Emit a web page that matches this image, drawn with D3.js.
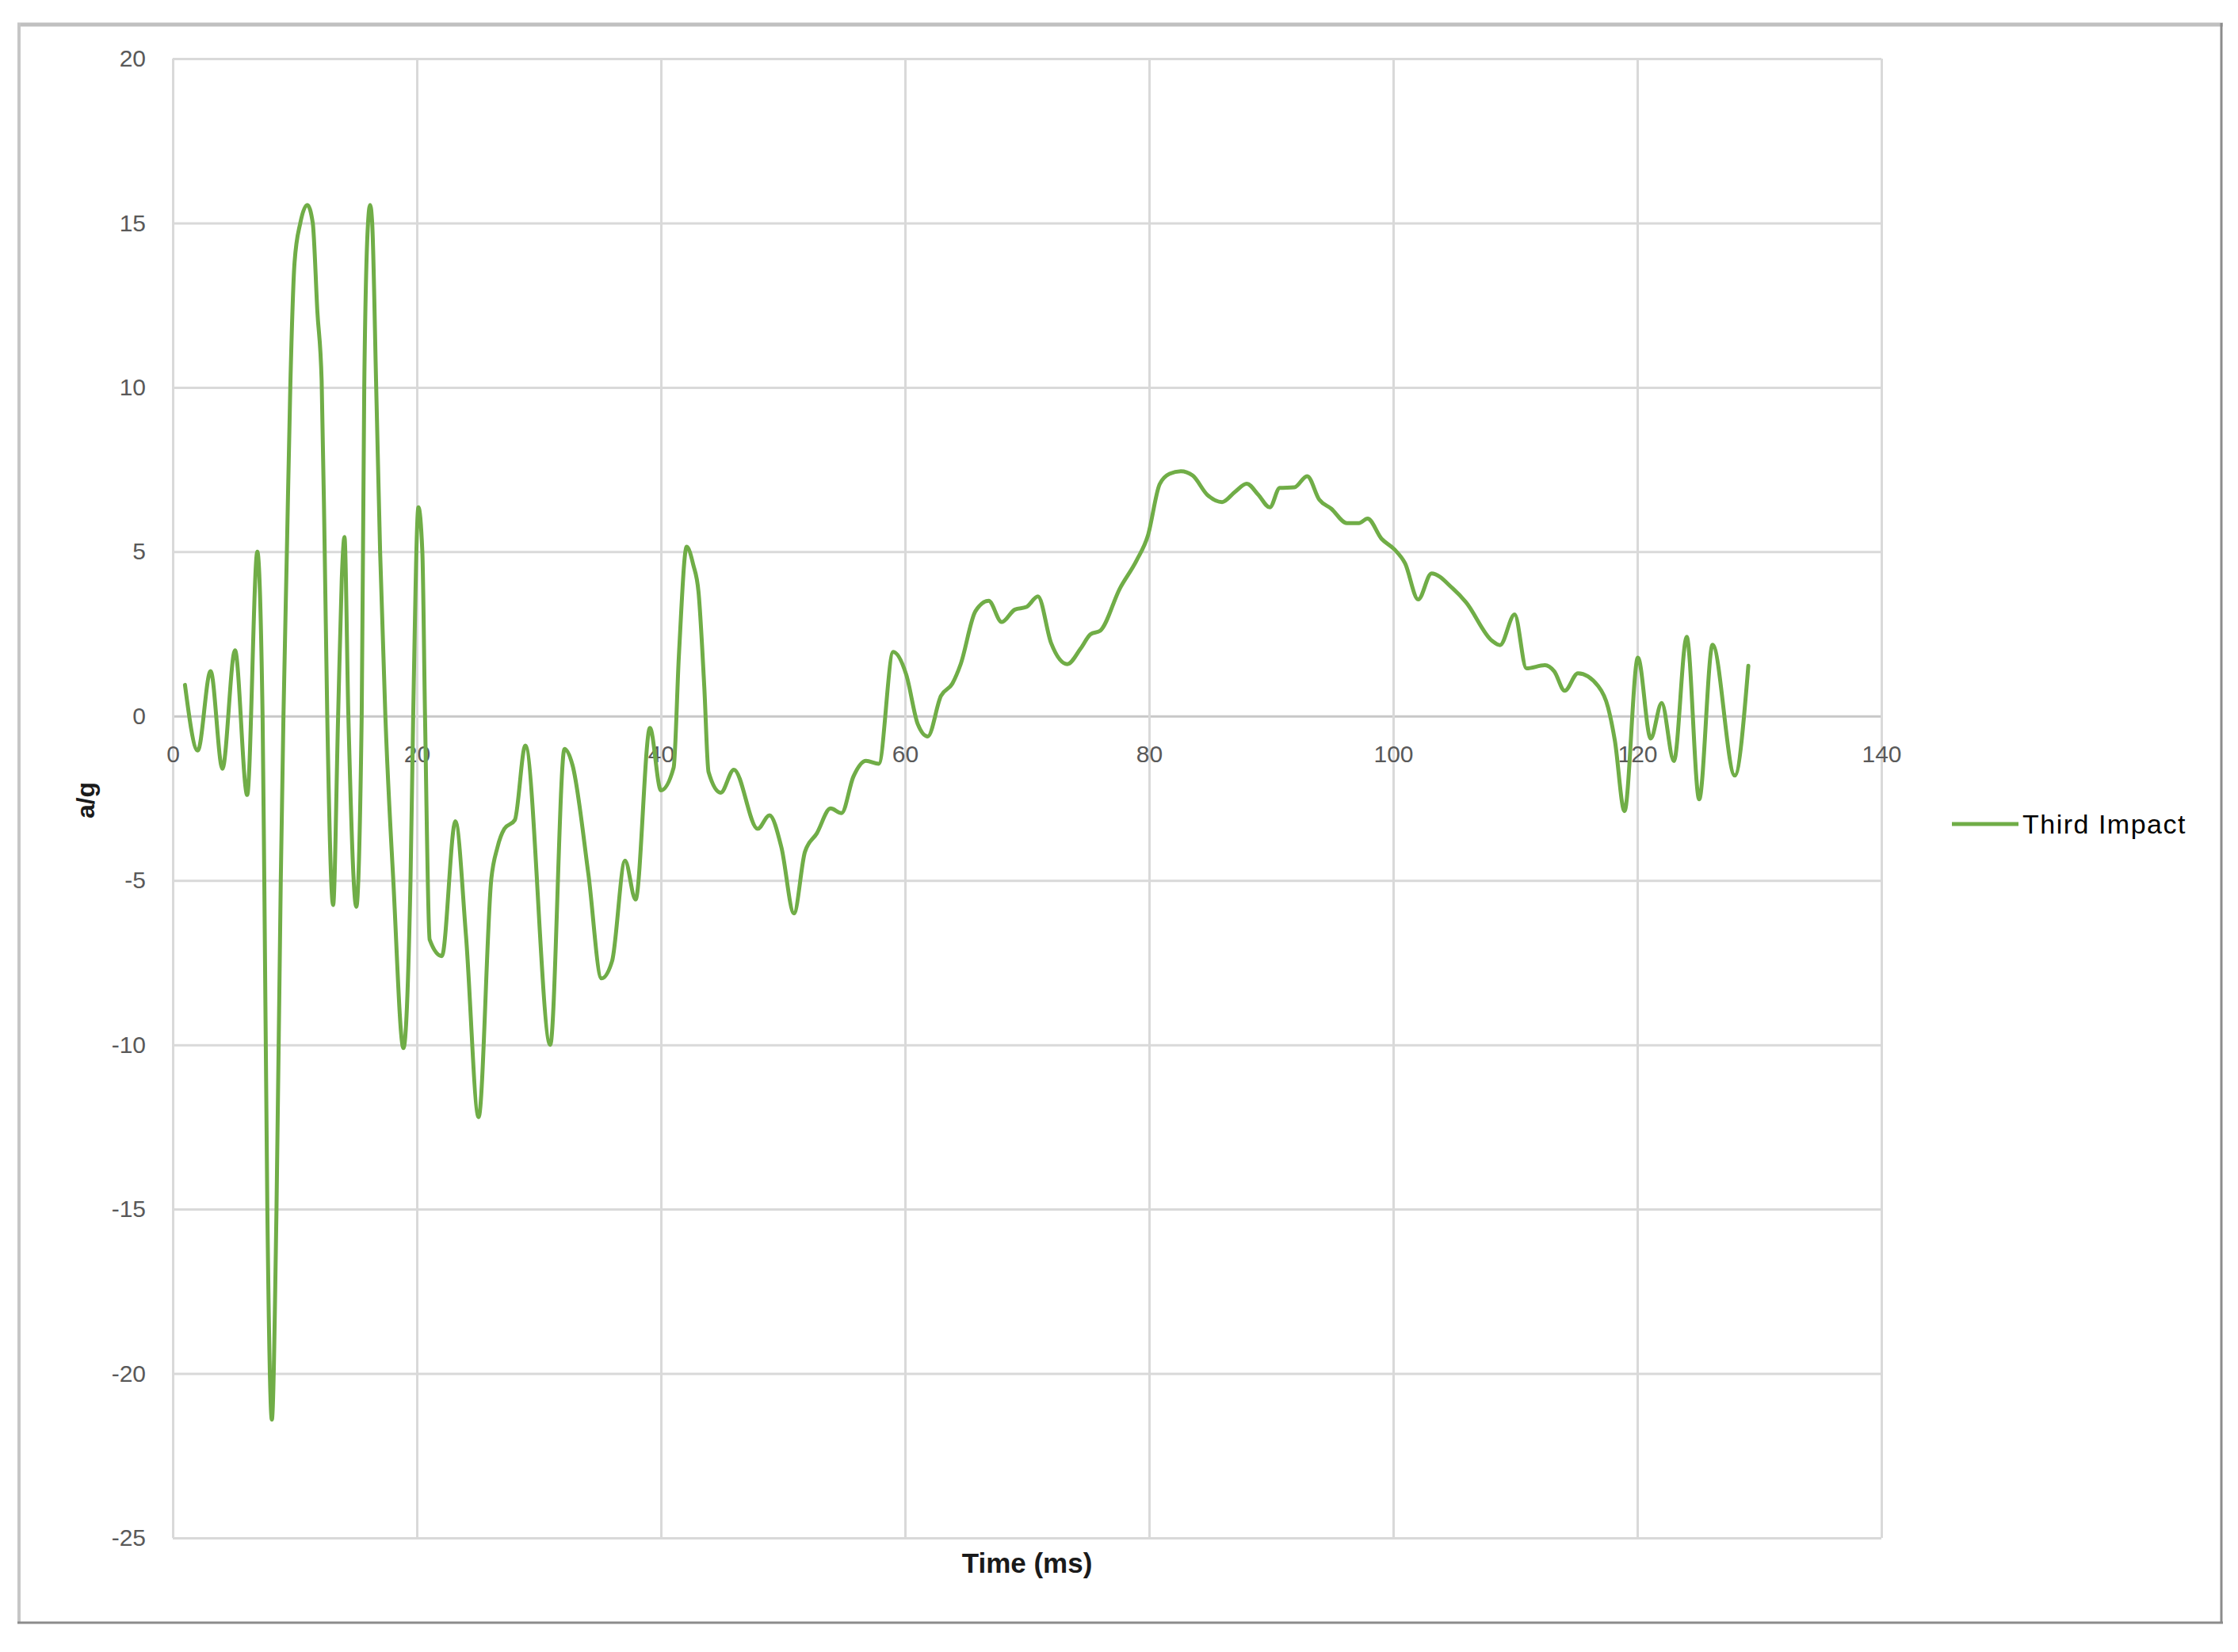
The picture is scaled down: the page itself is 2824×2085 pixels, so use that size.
<!DOCTYPE html>
<html>
<head>
<meta charset="utf-8">
<script src="https://cdn.jsdelivr.net/npm/d3@7/dist/d3.min.js"></script>
<style>
  body { margin: 0; background: #fff; }
  svg { display: block; font-family: "Liberation Sans", Arial, sans-serif; }
</style>
</head>
<body>
<div id="chart"></div>
<script>
// Values
var timeMs = [
  1.0, 2.05, 3.1, 4.07, 5.1, 6.1, 6.93, 7.36, 7.5, 7.75,
  8.12, 8.5, 8.85, 9.07, 9.35, 9.63, 9.98, 10.45, 11.02, 11.47,
  11.85, 12.2, 12.45, 12.66, 13.14, 13.55, 13.85, 14.07, 14.39, 15.04,
  15.48, 15.69, 16.0, 16.17, 16.34, 16.67, 16.99, 17.42, 18.07, 18.9,
  19.48, 19.7, 20.13, 20.45, 20.67, 21.05, 22.05, 23.16, 24.03, 25.06,
  26.1, 26.6, 27.17, 28.03, 28.89, 30.93, 32.1, 32.76, 34.06, 35.13,
  36.0, 37.06, 37.92, 39.1, 40.0, 41.04, 41.47, 42.11, 42.65, 43.08,
  43.55, 43.9, 44.9, 45.98, 47.93, 48.89, 49.87, 50.9, 51.8, 52.77,
  53.9, 54.8, 55.77, 56.8, 57.85, 59.03, 60.1, 61.05, 61.86, 62.94,
  63.88, 64.56, 65.77, 66.85, 67.92, 69.0, 69.95, 70.89, 71.97, 73.3,
  74.4, 75.2, 76.0, 77.6, 78.98, 79.9, 80.86, 81.67, 82.6, 83.56,
  84.77, 85.98, 87.06, 88.0, 88.95, 89.89, 90.7, 91.9, 92.95, 93.95,
  94.92, 96.2, 97.19, 97.9, 99.03, 100.1, 100.97, 102.05, 103.14, 104.86,
  105.95, 108.1, 108.76, 109.95, 110.92, 112.43, 113.2, 114.05, 115.14, 116.8,
  117.6, 118.16, 118.95, 120.05, 121.1, 122.0, 123.0, 124.05, 125.07, 126.17,
  127.99, 129.1
];
var accel = [
  0.95, -1.05, 1.37, -1.6, 2.0, -2.4, 5.0, 0.0, -5.0, -15.0,
  -21.4, -15.0, -5.0, 0.0, 5.0, 10.0, 13.8, 15.0, 15.55, 15.0,
  12.3, 10.2, 5.0, 0.0, -5.75, 0.0, 4.2, 5.45, 0.0, -5.8,
  0.0, 10.0, 15.0, 15.55, 15.0, 10.0, 5.0, 0.0, -5.0, -10.1,
  -5.0, 0.0, 6.35, 5.0, 0.0, -6.8, -7.3, -3.2, -6.7, -12.2,
  -4.96, -4.0, -3.43, -3.16, -0.9, -10.0, -1.0, -1.5, -4.82, -7.98,
  -7.45, -4.4, -5.58, -0.36, -2.26, -1.57, 1.83, 5.15, 4.6, 3.77,
  0.9, -1.7, -2.33, -1.63, -3.43, -3.02, -3.99, -6.0, -4.13, -3.57,
  -2.81, -2.95, -1.84, -1.36, -1.45, 1.95, 1.26, -0.25, -0.62, 0.61,
  0.99, 1.58, 3.19, 3.51, 2.86, 3.24, 3.32, 3.64, 2.22, 1.58,
  2.06, 2.49, 2.6, 3.88, 4.74, 5.49, 7.05, 7.37, 7.45, 7.32,
  6.73, 6.51, 6.83, 7.07, 6.73, 6.35, 6.94, 6.96, 7.3, 6.58,
  6.31, 5.87, 5.87, 6.01, 5.4, 5.07, 4.65, 3.55, 4.34, 3.89,
  3.47, 2.29, 2.16, 3.09, 1.45, 1.55, 1.36, 0.77, 1.3, 0.91,
  0.27, -0.74, -2.89, 1.78, -0.68, 0.4, -1.37, 2.41, -2.53, 2.17,
  -1.81, 1.53
];
var xTicks = [0, 20, 40, 60, 80, 100, 120, 140];
var yTicks = [-25, -20, -15, -10, -5, 0, 5, 10, 15, 20];
var seriesName = "Third Impact";
var xTitle = "Time (ms)";
var yTitle = "a/g";

var width = 2824,
  height = 2085;
var plot = { left: 218, right: 2374, top: 74, bottom: 1941 };

var points = timeMs.map(function (t, i) { return { t: t, a: accel[i] }; });

// plain hyphen for negatives, like the original
function tickLabel(d) { return String(d); }

var svg = d3.select("#chart").append("svg")
  .attr("width", width)
  .attr("height", height);

svg.append("rect")
  .attr("width", width)
  .attr("height", height)
  .attr("fill", "#fff");

// Chart frame (light top/left, darker right/bottom)
svg.append("line").attr("x1", 22).attr("x2", 2805).attr("y1", 31).attr("y2", 31)
  .attr("stroke", "#c0c0c0").attr("stroke-width", 5);
svg.append("line").attr("x1", 24).attr("x2", 24).attr("y1", 29).attr("y2", 2049)
  .attr("stroke", "#c6c6c6").attr("stroke-width", 4);
svg.append("line").attr("x1", 2803).attr("x2", 2803).attr("y1", 29).attr("y2", 2049)
  .attr("stroke", "#8c8c8c").attr("stroke-width", 3);
svg.append("line").attr("x1", 22).attr("x2", 2805).attr("y1", 2048).attr("y2", 2048)
  .attr("stroke", "#8c8c8c").attr("stroke-width", 3);

// Scales
var x = d3.scaleLinear().domain([0, 140]).range([plot.left, plot.right]);
var y = d3.scaleLinear().domain([-25, 20]).range([plot.bottom, plot.top]);

// Horizontal gridlines + y labels
var yAxis = svg.append("g")
  .attr("class", "y axis")
  .attr("transform", "translate(" + plot.left + ",0)")
  .call(d3.axisLeft(y)
    .tickValues(yTicks)
    .tickSize(-(plot.right - plot.left))
    .tickPadding(34)
    .tickFormat(tickLabel));

yAxis.select(".domain").remove();
yAxis.selectAll(".tick line")
  .attr("stroke", function (d) { return d === 0 ? "#c8c8c8" : "#d9d9d9"; })
  .attr("stroke-width", 3);
yAxis.selectAll(".tick text")
  .attr("fill", "#595959")
  .style("font-size", "30px");

// Vertical gridlines
var xGrid = svg.append("g")
  .attr("transform", "translate(0," + plot.bottom + ")")
  .call(d3.axisBottom(x)
    .tickValues(xTicks)
    .tickSize(-(plot.bottom - plot.top))
    .tickFormat(""));

xGrid.select(".domain").remove();
xGrid.selectAll(".tick line")
  .attr("stroke", "#d9d9d9")
  .attr("stroke-width", 3);

// x labels hang off the zero line
var xAxis = svg.append("g")
  .attr("transform", "translate(0," + y(0) + ")")
  .call(d3.axisBottom(x)
    .tickValues(xTicks)
    .tickSize(0)
    .tickPadding(37)
    .tickFormat(tickLabel));

xAxis.select(".domain").remove();
xAxis.selectAll(".tick text")
  .attr("fill", "#595959")
  .style("font-size", "30px");

// Series line
var line = d3.line()
  .x(function (d) { return x(d.t); })
  .y(function (d) { return y(d.a); })
  .curve(d3.curveMonotoneX);

svg.append("path")
  .datum(points)
  .attr("d", line)
  .attr("fill", "none")
  .attr("stroke", "#70ad47")
  .attr("stroke-width", 5)
  .attr("stroke-linejoin", "round")
  .attr("stroke-linecap", "round");

// Axis titles
svg.append("text")
  .attr("x", (plot.left + plot.right) / 2)
  .attr("y", 1985)
  .attr("text-anchor", "middle")
  .attr("fill", "#1a1a1a")
  .style("font-size", "35px")
  .style("font-weight", "bold")
  .text(xTitle);

svg.append("text")
  .attr("transform", "translate(119,1010) rotate(-90)")
  .attr("text-anchor", "middle")
  .attr("fill", "#1a1a1a")
  .style("font-size", "32px")
  .style("font-weight", "bold")
  .text(yTitle);

// Legend
var legend = svg.append("g").attr("transform", "translate(2463,1040)");

legend.append("line")
  .attr("x1", 0).attr("x2", 84)
  .attr("stroke", "#70ad47")
  .attr("stroke-width", 5);

legend.append("text")
  .attr("x", 89)
  .attr("y", 12)
  .attr("fill", "#000")
  .style("font-size", "34px")
  .style("letter-spacing", "1.5px")
  .text(seriesName);
</script>
</body>
</html>
